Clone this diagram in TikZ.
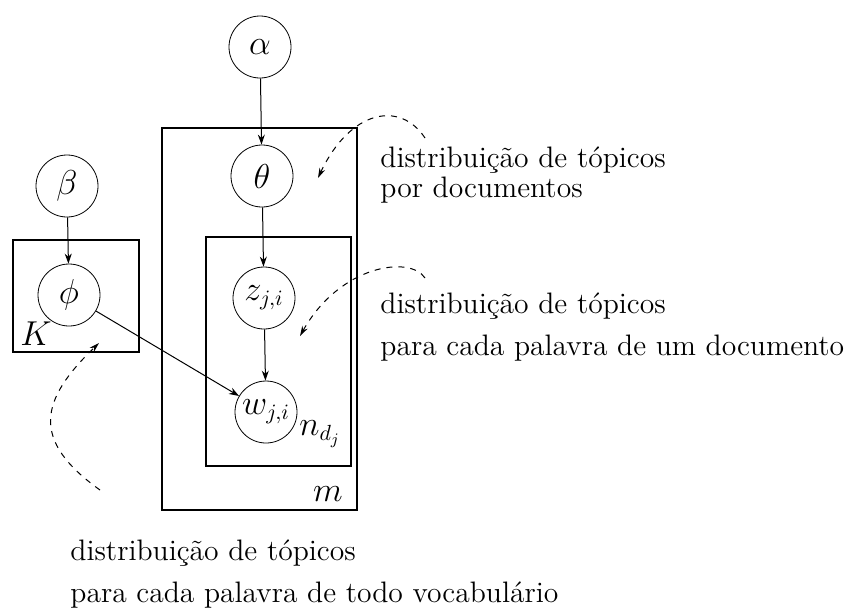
\documentclass[tikz,border=0pt]{standalone}
\usetikzlibrary{arrows.meta}
\begin{document}
\begin{tikzpicture}[x=0.5pt,y=-0.5pt,
  var/.style={draw,circle,minimum size=31pt,inner sep=0pt,font=\fontsize{16}{18}\selectfont},
  plate/.style={draw,line width=0.7pt},
  edge/.style={-{Stealth[length=5pt,width=3.5pt]},line width=0.5pt},
  note/.style={dashed,line width=0.5pt,-{Stealth[length=5pt,width=3pt]}},
  lbl/.style={font=\fontsize{16}{18}\selectfont},
  txt/.style={anchor=base west,inner sep=0pt,font=\fontsize{14.8}{17}\selectfont}]
\useasboundingbox (0,0) rectangle (855,612);
% plates
\draw[plate] (162,128) rectangle (357,510);
\draw[plate] (206,237) rectangle (351,466);
\draw[plate] (13,240) rectangle (139,352);
% nodes
\node[var] (alpha) at (260,47) {$\alpha$};
\node[var] (beta) at (67,186) {$\beta$};
\node[var] (theta) at (262,176) {$\theta$};
\node[var] (phi) at (69,295) {$\phi$};
\node[var] (z) at (264,298) {$z_{j,i}$};
\node[var] (w) at (266,412) {$w_{j,i}$};
% plate labels
\node[lbl] (K) at (36,334) {$K$};
\node[lbl] (m) at (328,494) {$m$};
\node[lbl] (n) at (320,434) {$n_{d_j}$};
% edges
\draw[edge] (alpha) -- (theta);
\draw[edge] (beta) -- (phi);
\draw[edge] (theta) -- (z);
\draw[edge] (z) -- (w);
\draw[edge] (phi) -- (w);
% texts
\node[txt] (t1a) at (380,167) {distribuição de tópicos};
\node[txt] (t1b) at (380,197) {por documentos};
\node[txt] (t2a) at (380,313) {distribuição de tópicos};
\node[txt] (t2b) at (380,355) {para cada palavra de um documento};
\node[txt] (t3a) at (70,560) {distribuição de tópicos};
\node[txt] (t3b) at (70,602) {para cada palavra de todo vocabulário};
% dashed notes
\coordinate (s1) at (425,138);
\coordinate (e1) at (318,178);
\coordinate (s2) at (425,278);
\coordinate (e2) at (300,336);
\coordinate (s3) at (100,490);
\coordinate (e3) at (99,343);
\draw[note] (s1) .. controls (400,100) and (350,110) .. (e1);
\draw[note] (s2) .. controls (410,255) and (340,265) .. (e2);
\draw[note] (s3) .. controls (30,440) and (40,400) .. (e3);
\end{tikzpicture}
\end{document}
